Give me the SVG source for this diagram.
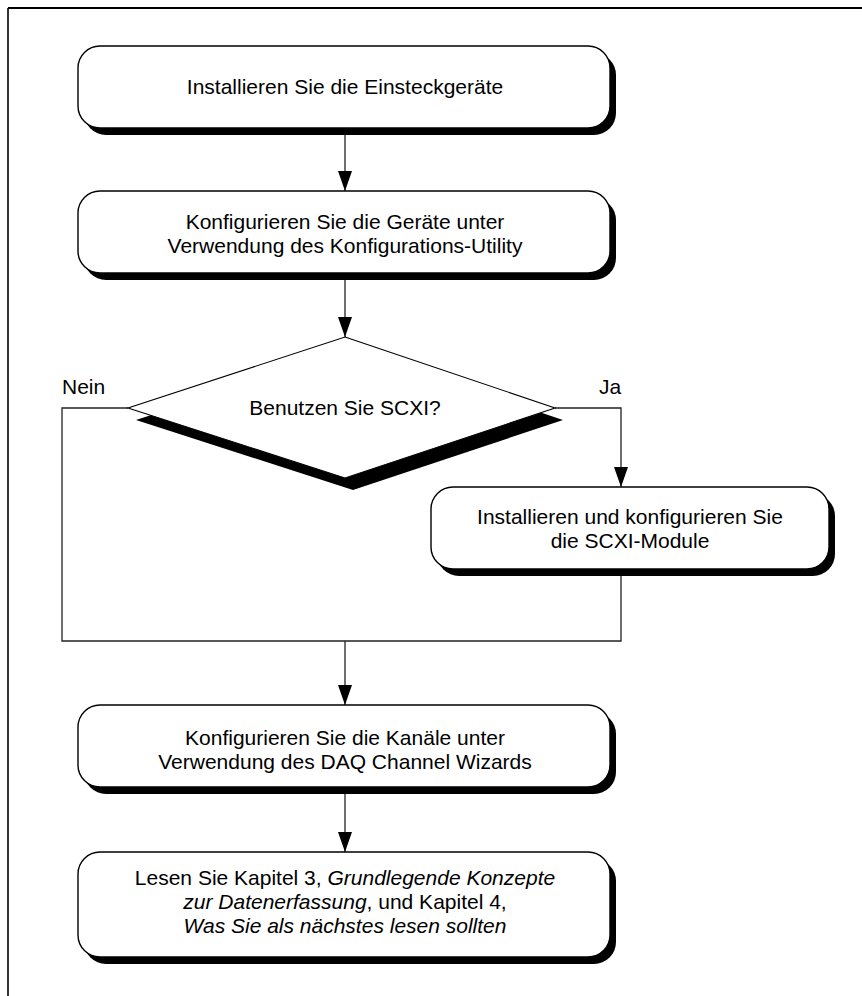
<svg xmlns="http://www.w3.org/2000/svg" width="862" height="996" viewBox="0 0 862 996">
  <style>
    .frame { fill: none; stroke: #000; }
    .shadow { fill: #000; stroke: none; }
    .box { fill: #fff; stroke: #000; stroke-width: 1.4; }
    .diamond { fill: #fff; stroke: #000; stroke-width: 1.1; }
    .conn { fill: none; stroke: #222; stroke-width: 1.3; }
    .label { font-family: "Liberation Sans", Arial, Helvetica, sans-serif; font-size: 21px; fill: #000; text-anchor: middle; }
    .side { font-family: "Liberation Sans", Arial, Helvetica, sans-serif; font-size: 21px; fill: #000; }
    .it { font-style: italic; }
  </style>
  <defs>
    <marker id="arrow" markerUnits="userSpaceOnUse" markerWidth="20" markerHeight="14" viewBox="0 0 20 14" refX="20" refY="7" orient="auto">
      <path d="M0,0 L20,7 L0,14 z" fill="#000"/>
    </marker>
  </defs>

  <rect width="862" height="996" fill="#fff"/>

  <!-- page frame: top rule and left rule -->
  <line class="frame" x1="8" y1="8" x2="862" y2="8" stroke-width="2.2"/>
  <line class="frame" x1="8" y1="8" x2="8" y2="996" stroke-width="1.6"/>

  <!-- connectors -->
  <g id="connectors">
    <line class="conn" x1="345" y1="134" x2="345" y2="191" marker-end="url(#arrow)"/>
    <line class="conn" x1="345" y1="280" x2="345" y2="337" marker-end="url(#arrow)"/>
    <polyline class="conn" points="555,408 621,408 621,487" marker-end="url(#arrow)"/>
    <polyline class="conn" points="128,408 62,408 62,641 621,641 621,576"/>
    <line class="conn" x1="345" y1="641" x2="345" y2="705" marker-end="url(#arrow)"/>
    <line class="conn" x1="345" y1="793" x2="345" y2="852" marker-end="url(#arrow)"/>
  </g>

  <g id="install-boards">
    <rect class="shadow" x="84" y="53" width="532" height="82" rx="22" ry="22"/>
    <rect class="box" x="78" y="46" width="532" height="82" rx="22" ry="22"/>
    <text class="label" x="345" y="94">Installieren Sie die Einsteckgeräte</text>
  </g>

  <g id="configure-devices">
    <rect class="shadow" x="84" y="198" width="532" height="82" rx="22" ry="22"/>
    <rect class="box" x="78" y="191" width="532" height="82" rx="22" ry="22"/>
    <text class="label" x="345" y="229">Konfigurieren Sie die Geräte unter</text>
    <text class="label" x="345" y="253">Verwendung des Konfigurations-Utility</text>
  </g>

  <g id="use-scxi">
    <polygon class="shadow" points="353,349 563,420 353,490 136,420"/>
    <polygon class="diamond" points="345,337 555,408 345,478 128,408"/>
    <text class="label" x="345" y="415">Benutzen Sie SCXI?</text>
    <text class="side" x="62" y="394">Nein</text>
    <text class="side" x="599" y="394">Ja</text>
  </g>

  <g id="install-scxi">
    <rect class="shadow" x="437" y="494" width="398" height="82" rx="22" ry="22"/>
    <rect class="box" x="431" y="487" width="398" height="82" rx="22" ry="22"/>
    <text class="label" x="630" y="524">Installieren und konfigurieren Sie</text>
    <text class="label" x="630" y="548">die SCXI-Module</text>
  </g>

  <g id="configure-channels">
    <rect class="shadow" x="84" y="712" width="532" height="82" rx="22" ry="22"/>
    <rect class="box" x="78" y="705" width="532" height="82" rx="22" ry="22"/>
    <text class="label" x="345" y="745">Konfigurieren Sie die Kanäle unter</text>
    <text class="label" x="345" y="769">Verwendung des DAQ Channel Wizards</text>
  </g>

  <g id="read-chapters">
    <rect class="shadow" x="84" y="859" width="532" height="105" rx="22" ry="22"/>
    <rect class="box" x="78" y="852" width="532" height="105" rx="22" ry="22"/>
    <text class="label" x="345" y="885">Lesen Sie Kapitel 3, <tspan class="it">Grundlegende Konzepte</tspan></text>
    <text class="label" x="345" y="909"><tspan class="it">zur Datenerfassung</tspan>, und Kapitel 4,</text>
    <text class="label it" x="345" y="933">Was Sie als nächstes lesen sollten</text>
  </g>
</svg>
